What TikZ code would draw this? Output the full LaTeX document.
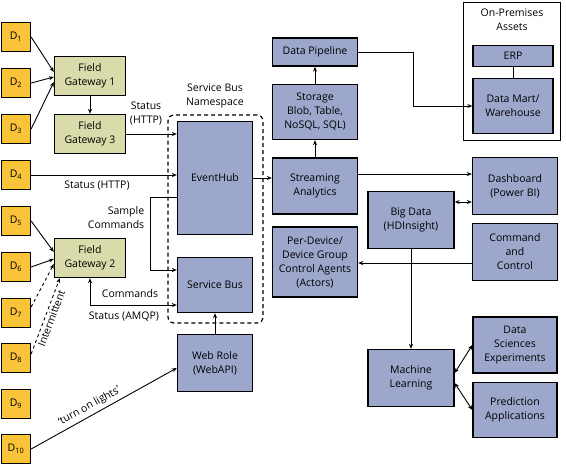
\documentclass[tikz,border=0pt]{standalone}
\usepackage{fontspec}
\setmainfont{Open Sans}
\usepackage{tikz}
\usetikzlibrary{arrows.meta}
\definecolor{devorange}{RGB}{250,196,58}
\definecolor{gwkhaki}{RGB}{218,219,170}
\definecolor{azureblue}{RGB}{157,167,204}
\tikzset{ dev_box/.style = {rectangle, draw, line width=1.3pt, fill=devorange, minimum width=29pt, minimum height=29pt, inner sep=0pt} }
\tikzset{ gw_box/.style = {rectangle, draw, line width=1.3pt, fill=gwkhaki, align=center, minimum width=71pt, minimum height=39pt, inner sep=0pt} }
\tikzset{ az_box/.style = {rectangle, draw, line width=1.3pt, fill=azureblue, align=center, inner sep=0pt} }
\tikzset{ ns_box/.style = {rectangle, draw, rounded corners=6pt, line width=1.2pt, dash pattern=on 4pt off 3pt, minimum width=95pt, minimum height=208pt} }
\tikzset{ group_box/.style = {rectangle, draw, line width=1pt, inner sep=0pt} }

\begin{document}
\begin{tikzpicture}[x=1pt, y=-1pt, font=\fontsize{10.5}{14}\selectfont, >={Stealth[length=5pt,width=4pt]}, line width=0.9pt]
\useasboundingbox (0,0) rectangle (566,464);
\node[dev_box] (d1) at (16,37) {D\textsubscript{1}};
\node[dev_box] (d2) at (16,83) {D\textsubscript{2}};
\node[dev_box] (d3) at (16,129) {D\textsubscript{3}};
\node[dev_box] (d4) at (16,175) {D\textsubscript{4}};
\node[dev_box] (d5) at (16,221) {D\textsubscript{5}};
\node[dev_box] (d6) at (16,267) {D\textsubscript{6}};
\node[dev_box] (d7) at (16,313) {D\textsubscript{7}};
\node[dev_box] (d8) at (16,358) {D\textsubscript{8}};
\node[dev_box] (d9) at (16,404) {D\textsubscript{9}};
\node[dev_box] (d10) at (16,449) {D\textsubscript{10}};
\node[gw_box] (fg1) at (90,76) {Field\\Gateway 1};
\node[gw_box] (fg3) at (90,134) {Field\\Gateway 3};
\node[gw_box] (fg2) at (90,258) {Field\\Gateway 2};
\node[ns_box] (ns) at (215.5,219) {};
\node[align=center] (ns_label) at (215,96) {Service Bus\\Namespace};
\node[az_box, minimum width=75pt, minimum height=113pt] (eh) at (215,178) {EventHub};
\node[az_box, minimum width=75pt, minimum height=55pt] (sb) at (215,285) {Service Bus};
\node[az_box, minimum width=75pt, minimum height=57pt] (web) at (215,363) {Web Role\\(WebAPI)};
\node[az_box, minimum width=85pt, minimum height=28pt] (pipe) at (315,52) {Data Pipeline};
\node[az_box, minimum width=85pt, minimum height=55pt] (store) at (315,112) {Storage\\Blob, Table,\\NoSQL, SQL)};
\node[az_box, minimum width=85pt, minimum height=56pt] (stream) at (315,186) {Streaming\\Analytics};
\node[az_box, minimum width=85pt, minimum height=70pt] (agents) at (315,262) {Per-Device/\\Device Group\\Control Agents\\(Actors)};
\node[group_box, minimum width=97pt, minimum height=138pt] (onprem) at (511.5,71) {};
\node[align=center] (onprem_label) at (512,20) {On-Premises\\Assets};
\node[az_box, minimum width=80pt, minimum height=21pt] (erp) at (513,56) {ERP};
\node[az_box, minimum width=80pt, minimum height=55pt] (mart) at (513,106) {Data Mart/\\Warehouse};
\node[az_box, minimum width=85pt, minimum height=57pt] (dash) at (515,186) {Dashboard\\(Power BI)};
\node[az_box, minimum width=85pt, minimum height=57pt] (cmd) at (515,252) {Command\\and\\Control};
\node[az_box, minimum width=86pt, minimum height=57pt] (big) at (411,220) {Big Data\\(HDInsight)};
\node[az_box, minimum width=86pt, minimum height=57pt] (ml) at (411,378) {Machine\\Learning};
\node[az_box, minimum width=84pt, minimum height=56pt] (dse) at (515,345) {Data\\Sciences\\Experiments};
\node[az_box, minimum width=84pt, minimum height=55pt] (pred) at (515,410) {Prediction\\Applications};
\node[align=center] (lbl_fg3) at (146,114) {Status\\(HTTP)};
\node (lbl_d4) at (97,186) {Status (HTTP)};
\node[align=right, anchor=east] (lbl_sample) at (148,218) {Sample\\Commands};
\node (lbl_cmds) at (130,294) {Commands};
\node (lbl_amqp) at (124,317) {Status (AMQP)};
\coordinate (sc_bend) at (150,197);
\draw[->] (d1.east) -- ([yshift=4pt]fg1.west);
\draw[->] (d2.east) -- ([yshift=-1pt]fg1.west);
\draw[->] (d3.east) -- ([yshift=-6pt]fg1.west);
\draw[->] (fg1) -- (fg3);
\draw[->] (fg3.east) -- (fg3.east -| eh.west);
\draw[->] (d4.east) -- (d4.east -| eh.west);
\draw[->] (sc_bend -| eh.west) -- (sc_bend) |- ([yshift=15pt]sb.west);
\draw[<->] (fg2.south) |- ([yshift=-20pt]sb.west);
\draw[->] (d5.east) -- ([yshift=6pt]fg2.west);
\draw[->] (d6.east) -- ([yshift=-1pt]fg2.west);
\draw[->, dashed] ([yshift=6pt]d7.east) -- ([yshift=-6pt]fg2.west);
\draw[->, dashed] ([yshift=4pt]d8.east) -- ([xshift=6pt]fg2.south west) node[midway, sloped, below, inner sep=2pt] (lbl_intermittent) {Intermittent};
\draw[->] (d10.east) -- ([yshift=-5pt]web.west) node[pos=0.43, sloped, above] (lbl_lights) {‘turn on lights’};
\draw[->] (web) -- (sb);
\draw[->] (eh.east) -- (eh.east -| stream.west);
\draw[->] (stream) -- (store);
\draw[->] (store) -- (pipe);
\draw[->] (pipe.east) -- ++(55,0) |- (mart.west);
\draw (erp) -- (mart);
\draw[->] ([yshift=12pt]stream.east) -- ([yshift=12pt]stream.east -| dash.west);
\draw[<->] ([yshift=18pt]big.east) -- ([yshift=18pt]big.east -| dash.west);
\draw[->] ([yshift=-11pt]cmd.west) -- ([yshift=-11pt]cmd.west -| agents.east);
\draw[->] (big) -- (ml);
\draw[<->] ([yshift=5pt]ml.east) -- (dse.west);
\draw[<->] ([yshift=-5pt]ml.east) -- (pred.west);
\end{tikzpicture}
\end{document}
